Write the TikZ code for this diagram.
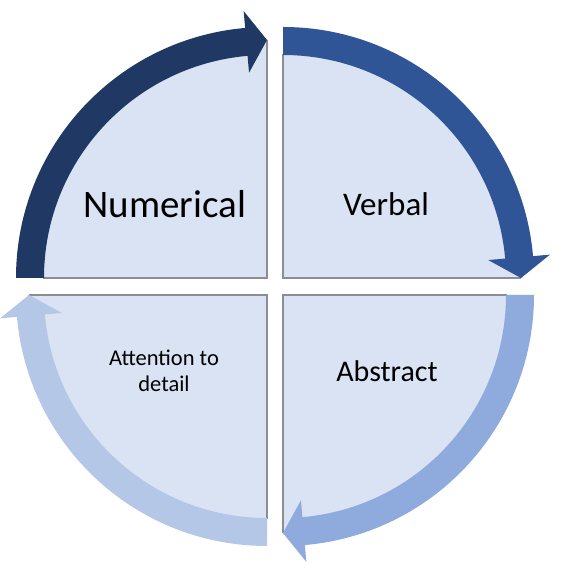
\documentclass[tikz,border=0pt]{standalone}
\usepackage{fontspec}
\setmainfont{Carlito}
\definecolor{quadfill}{HTML}{DAE3F3}
\definecolor{quadline}{HTML}{8A8D92}
\definecolor{navy}{HTML}{1F3864}
\definecolor{midblue}{HTML}{2F5597}
\definecolor{softblue}{HTML}{8FAADC}
\definecolor{paleblue}{HTML}{B4C7E7}

\begin{document}
\begin{tikzpicture}[
  x=1pt,y=1pt,
  quad/.style={fill=quadfill},
  edge/.style={draw=quadline,line width=2},
  big/.style={font=\fontsize{39}{46}\selectfont},
  mid/.style={font=\fontsize{32}{38}\selectfont},
  small/.style={font=\fontsize{22.5}{26}\selectfont,align=center},
]
  \useasboundingbox (0,0) rectangle (560,568);

  % Top left: Numerical
  \begin{scope}[shift={(267,290)}]
    \fill[quad] (0,0) -- (180:240) arc[start angle=180,end angle=90,radius=240] -- cycle;
    \draw[edge] (180:224) -- (0,0) -- (90:238);
    \fill[navy] (180:251) arc[start angle=180,end angle=95,radius=251] -- (95:268) -- (90:238)
      -- (95:206) -- (95:223) arc[start angle=95,end angle=180,radius=223] -- cycle;
    \node[big] (numerical) at (-102,74) {Numerical};
  \end{scope}

  % Top right: Verbal
  \begin{scope}[shift={(283,290)}]
    \fill[quad] (0,0) -- (90:240) arc[start angle=90,end angle=0,radius=240] -- cycle;
    \draw[edge] (90:224) -- (0,0) -- (0:238);
    \fill[midblue] (90:251) arc[start angle=90,end angle=5,radius=251] -- (5:268) -- (0:238)
      -- (5:206) -- (5:223) arc[start angle=5,end angle=90,radius=223] -- cycle;
    \node[mid,font=\fontsize{33}{38}\selectfont] (verbal) at (103,74) {Verbal};
  \end{scope}

  % Bottom right: Abstract
  \begin{scope}[shift={(283,273)}]
    \fill[quad] (0,0) -- (0:240) arc[start angle=0,end angle=-90,radius=240] -- cycle;
    \draw[edge] (0:224) -- (0,0) -- (-90:238);
    \fill[softblue] (0:251) arc[start angle=0,end angle=-85,radius=251] -- (-85:268) -- (-90:238)
      -- (-85:206) -- (-85:223) arc[start angle=-85,end angle=0,radius=223] -- cycle;
    \node[mid,font=\fontsize{30}{36}\selectfont] (abstract) at (104,-76) {Abstract};
  \end{scope}

  % Bottom left: Attention to detail
  \begin{scope}[shift={(267,273)}]
    \fill[quad] (0,0) -- (-90:240) arc[start angle=-90,end angle=-180,radius=240] -- cycle;
    \draw[edge] (-90:224) -- (0,0) -- (180:238);
    \fill[paleblue] (-90:251) arc[start angle=-90,end angle=-175,radius=251] -- (-175:268) -- (-180:238)
      -- (-175:206) -- (-175:223) arc[start angle=-175,end angle=-90,radius=223] -- cycle;
    \node[small] (detail) at (-103,-76) {Attention to\\detail};
  \end{scope}
\end{tikzpicture}
\end{document}
